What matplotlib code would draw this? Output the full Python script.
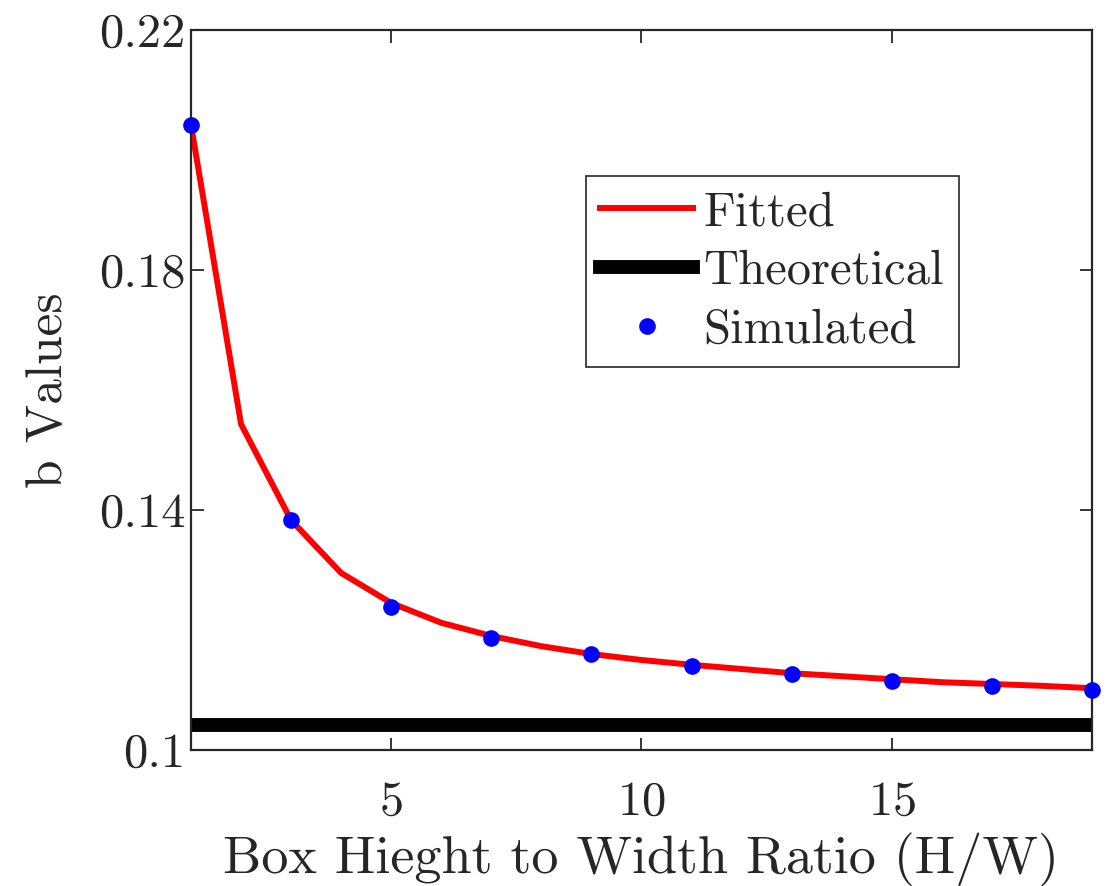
import numpy as np
import matplotlib

matplotlib.use("Agg")
import matplotlib.pyplot as plt

# --- values ---
ratio_fit = np.arange(1, 20)
b_fit = [0.2042, 0.1543, 0.1383, 0.1295, 0.1245, 0.1212, 0.1190, 0.1173, 0.1160, 0.1150,
         0.1142, 0.1135, 0.1128, 0.1123, 0.1118, 0.1113, 0.1110, 0.1107, 0.1103]
ratio_sim = [1, 3, 5, 7, 9, 11, 13, 15, 17, 19]
b_sim = [0.2042, 0.1383, 0.1238, 0.1187, 0.1160, 0.1140, 0.1127, 0.1115, 0.1107, 0.1100]
b_theory = 0.1042
xticks = [5, 10, 15]
yticks = [0.1, 0.14, 0.18, 0.22]
ytick_labels = ["0.1", "0.14", "0.18", "0.22"]

plt.rcParams.update({
    "font.family": "serif",
    "font.serif": ["cmr10"],
    "mathtext.fontset": "cm",
    "axes.formatter.use_mathtext": True,
    "font.size": 35,
    "text.color": "#262626",
    "axes.edgecolor": "#262626",
    "axes.labelcolor": "#262626",
    "xtick.color": "#262626",
    "ytick.color": "#262626",
})

fig = plt.figure(figsize=(11.06, 8.86), dpi=100)
ax = fig.add_axes([0.1727, 0.1535, 0.8146, 0.8126])

ax.plot(ratio_fit, b_fit, "-", color="red", lw=4.3, label="Fitted", zorder=2)
ax.axhline(b_theory, color="black", lw=10, label="Theoretical", zorder=2)
ax.plot(ratio_sim, b_sim, "o", color="blue", ms=12, mec="none", label="Simulated",
        clip_on=False, zorder=3)

ax.set_xlim(1, 19)
ax.set_ylim(0.1, 0.22)
ax.set_xticks(xticks)
ax.set_yticks(yticks)
ax.set_yticklabels(ytick_labels)
ax.tick_params(direction="in", length=9, width=1.3, top=True, right=True, labelsize=35)
ax.tick_params(axis="x", pad=22)
ax.tick_params(axis="y", pad=4)
for s in ax.spines.values():
    s.set_linewidth(1.6)

ax.set_xlabel("Box Hieght to Width Ratio (H/W)", fontsize=39, labelpad=6)
ax.set_ylabel("b Values", fontsize=37, labelpad=19)

leg = ax.legend(loc="upper right", bbox_to_anchor=(0.852, 0.797), fancybox=False,
                framealpha=1, edgecolor="#262626", borderpad=0.3, handlelength=1.9,
                handletextpad=0.22, labelspacing=0.3, borderaxespad=0, fontsize=35)
leg.get_frame().set_linewidth(1.2)

fig.savefig("out.png", dpi=100)
